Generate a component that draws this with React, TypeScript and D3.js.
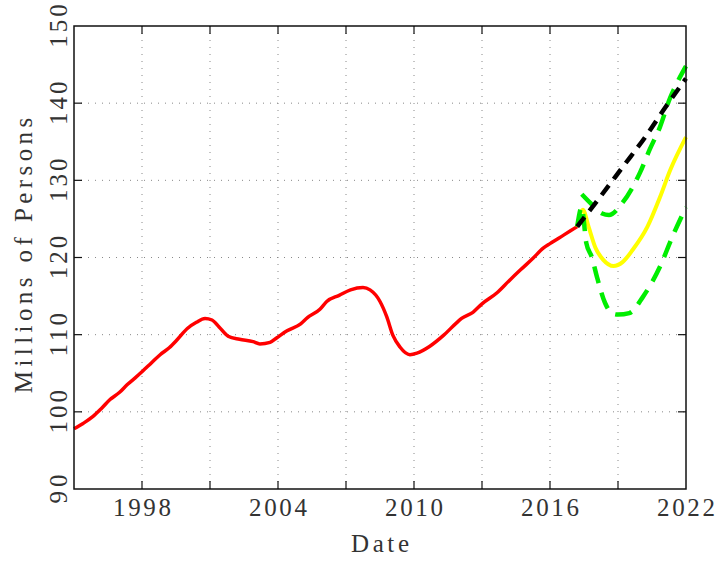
import React, { useEffect, useRef } from 'react';
import * as d3 from 'd3';

// historic series (red)
const histYears = [
  1995.0, 1995.4, 1995.84, 1996.2, 1996.59, 1997.0, 1997.34, 1997.7, 1998.0, 1998.4,
  1998.8, 1999.2, 1999.54, 2000.0, 2000.4, 2000.78, 2001.09, 2001.4, 2001.8, 2002.3,
  2002.9, 2003.2, 2003.65, 2003.95, 2004.4, 2005.0, 2005.3, 2005.85, 2006.15, 2006.7,
  2007.2, 2007.75, 2008.06, 2008.5, 2008.8, 2009.07, 2009.38, 2009.82, 2010.13, 2010.7,
  2011.3, 2011.9, 2012.1, 2012.6, 2013.0, 2013.65, 2014.2, 2014.7, 2015.25, 2015.7,
  2016.0, 2016.6, 2017.2,
];
const histValues = [
  97.8, 98.5, 99.4, 100.4, 101.6, 102.5, 103.5, 104.4, 105.2, 106.3,
  107.4, 108.3, 109.3, 110.8, 111.6, 112.1, 111.9, 111.0, 109.8, 109.4,
  109.1, 108.8, 109.0, 109.6, 110.5, 111.4, 112.2, 113.3, 114.3, 115.1,
  115.8, 116.1, 115.8, 114.3, 112.3, 109.9, 108.4, 107.4, 107.6, 108.5,
  109.9, 111.6, 112.1, 112.9, 114.0, 115.4, 117.0, 118.4, 119.9, 121.2,
  121.8, 122.9, 124.0,
];

// trend (black dashed)
const trendYears = [2017.2, 2018.2, 2019.2, 2020.2, 2021.1, 2022.0];
const trendValues = [124.0, 127.8, 131.7, 135.6, 139.5, 143.2];

// forecast (yellow)
const fcYears = [2017.2, 2017.45, 2017.7, 2018.0, 2018.35, 2018.8, 2019.2, 2019.65, 2020.3, 2020.85, 2021.3, 2022.0];
const fcValues = [124.0, 126.2, 124.0, 121.3, 119.7, 118.9, 119.4, 121.0, 124.0, 127.8, 131.3, 135.6];

// upper / lower bounds (green dashed)
const upperYears = [2017.4, 2017.8, 2018.3, 2018.6, 2019.2, 2019.97, 2020.4, 2020.85, 2021.3, 2021.6, 2022.0];
const upperValues = [128.2, 127.0, 125.7, 125.5, 127.1, 131.0, 134.0, 136.9, 140.7, 142.6, 144.8];
const lowerYears = [2017.2, 2017.4, 2017.6, 2017.85, 2018.07, 2018.43, 2018.78, 2019.0, 2019.5, 2020.1, 2020.85, 2021.4, 2022.0];
const lowerValues = [124.0, 126.5, 121.9, 120.0, 117.5, 114.1, 112.7, 112.6, 112.8, 114.9, 118.8, 122.7, 126.5];

const xTicks = [1995, 1998, 2001, 2004, 2007, 2010, 2013, 2016, 2019, 2022];
const xLabels = [1998, 2004, 2010, 2016, 2022];
const yTicks = [90, 100, 110, 120, 130, 140, 150];

const FONT = '"Liberation Serif", "DejaVu Serif", serif';
const CHAR_W = 14.5; // the reference uses a fixed-width vector font

const Chart: React.FC = () => {
  const svgRef = useRef<SVGSVGElement>(null);

  useEffect(() => {
    const width = 719;
    const height = 562;
    const m = { left: 74, right: 686, top: 26, bottom: 489 };

    const svg = d3.select(svgRef.current)
      .attr('width', width)
      .attr('height', height);
    svg.selectAll('*').remove();

    const x = d3.scaleLinear().domain([1995, 2022]).range([m.left, m.right]);
    const y = d3.scaleLinear().domain([90, 150]).range([m.bottom, m.top]);

    // grid
    const grid = svg.append('g')
      .attr('stroke', '#888')
      .attr('stroke-width', 1)
      .attr('stroke-dasharray', '1,6');
    grid.selectAll('line.gx')
      .data(xTicks.slice(1, -1))
      .enter().append('line')
      .attr('x1', d => x(d)).attr('x2', d => x(d))
      .attr('y1', m.top).attr('y2', m.bottom);
    grid.selectAll('line.gy')
      .data(yTicks.slice(1, -1))
      .enter().append('line')
      .attr('y1', d => y(d)).attr('y2', d => y(d))
      .attr('x1', m.left).attr('x2', m.right);

    // series
    const line = (xs: number[], ys: number[]) =>
      d3.line<number>()
        .x((_, i) => x(xs[i]))
        .y(d => y(d))
        .curve(d3.curveMonotoneX)(ys);

    svg.append('path')
      .attr('d', line(histYears, histValues))
      .attr('fill', 'none').attr('stroke', '#ff0000').attr('stroke-width', 3.5);
    svg.append('path')
      .attr('d', line(fcYears, fcValues))
      .attr('fill', 'none').attr('stroke', '#ffff00').attr('stroke-width', 4);
    svg.append('path')
      .attr('d', line(upperYears, upperValues))
      .attr('fill', 'none').attr('stroke', '#00ee00').attr('stroke-width', 4.5)
      .attr('stroke-dasharray', '17,10');
    svg.append('path')
      .attr('d', line(lowerYears, lowerValues))
      .attr('fill', 'none').attr('stroke', '#00ee00').attr('stroke-width', 4.5)
      .attr('stroke-dasharray', '17,10');
    svg.append('path')
      .attr('d', line(trendYears, trendValues))
      .attr('fill', 'none').attr('stroke', '#000').attr('stroke-width', 4.5)
      .attr('stroke-dasharray', '12,8');

    // frame
    svg.append('rect')
      .attr('x', m.left).attr('y', m.top)
      .attr('width', m.right - m.left).attr('height', m.bottom - m.top)
      .attr('fill', 'none').attr('stroke', '#111').attr('stroke-width', 1.5);

    // inward ticks
    const ticks = svg.append('g').attr('stroke', '#111').attr('stroke-width', 1.2);
    xTicks.slice(1, -1).forEach(t => {
      ticks.append('line').attr('x1', x(t)).attr('x2', x(t)).attr('y1', m.bottom).attr('y2', m.bottom - 8);
      ticks.append('line').attr('x1', x(t)).attr('x2', x(t)).attr('y1', m.top).attr('y2', m.top + 8);
    });
    yTicks.slice(1, -1).forEach(t => {
      ticks.append('line').attr('y1', y(t)).attr('y2', y(t)).attr('x1', m.left).attr('x2', m.left + 8);
      ticks.append('line').attr('y1', y(t)).attr('y2', y(t)).attr('x1', m.right).attr('x2', m.right - 8);
    });

    const label = (s: string, transform: string, size = 25) =>
      svg.append('text')
        .attr('transform', transform)
        .attr('text-anchor', 'middle')
        .attr('font-family', FONT).attr('font-size', size).attr('fill', '#333')
        .attr('textLength', s.length * CHAR_W)
        .attr('lengthAdjust', 'spacing')
        .text(s);

    // tick labels
    xLabels.forEach(d => label(String(d), `translate(${x(d)},${m.bottom + 27})`));
    yTicks.forEach(d => label(String(d), `translate(${m.left - 7},${y(d)}) rotate(-90)`));

    // axis titles
    label('Date', `translate(${(m.left + m.right) / 2},552)`);
    label('Millions of Persons', `translate(32,${(m.top + m.bottom) / 2 - 2}) rotate(-90)`);
  }, []);

  return <svg ref={svgRef}></svg>;
};

const App: React.FC = () => {
  return (
    <div style={{ position: 'absolute', left: 0, top: 0, background: '#fff' }}>
      <Chart />
    </div>
  );
};

export default App;
